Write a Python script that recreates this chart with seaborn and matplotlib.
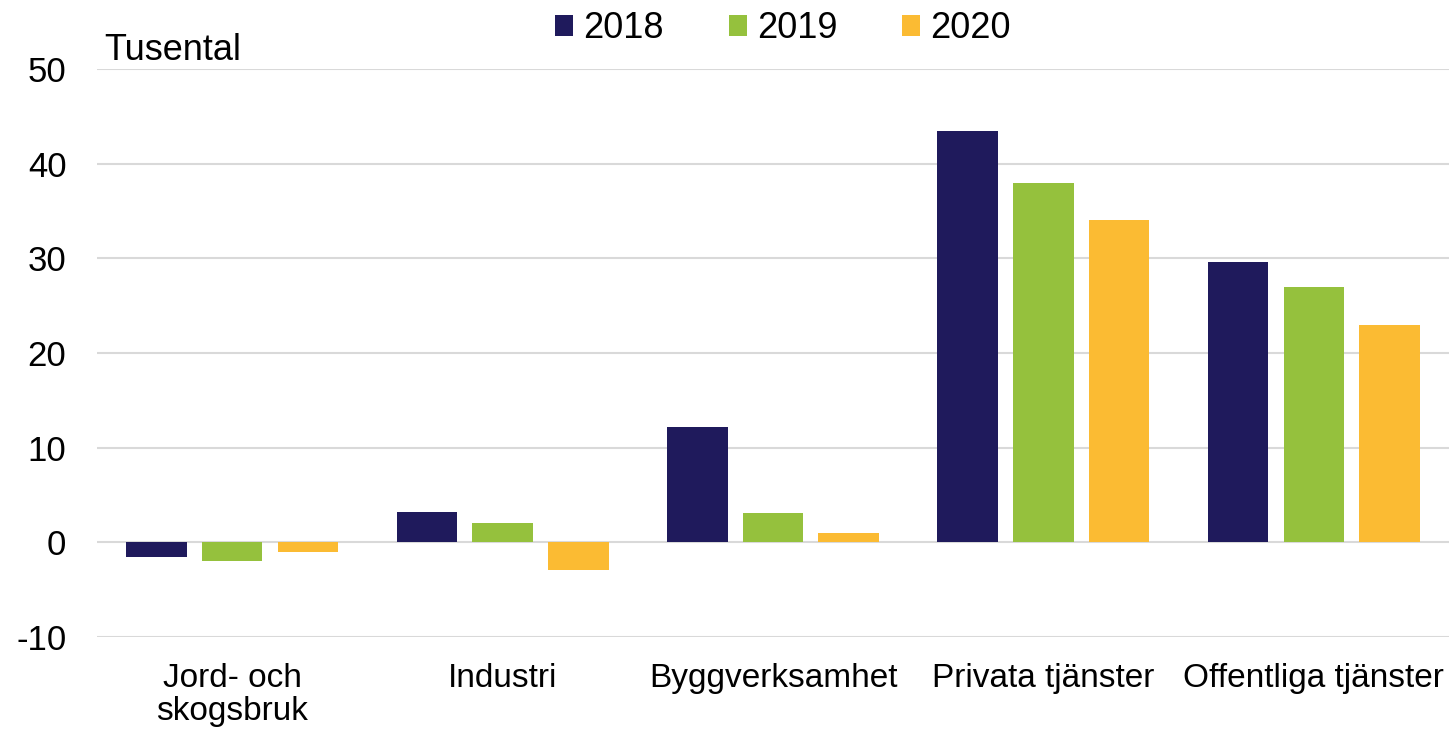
import matplotlib
matplotlib.use("Agg")
import matplotlib.pyplot as plt
import seaborn as sns
import pandas as pd

categories = ["Jord- och\nskogsbruk", "Industri", "Byggverksamhet", "Privata tjänster", "Offentliga tjänster"]
years = ["2018", "2019", "2020"]
values_2018 = [-1.6, 3.2, 12.2, 43.5, 29.6]
values_2019 = [-2.0, 2.0, 3.1, 38.0, 27.0]
values_2020 = [-1.0, -2.9, 1.0, 34.0, 23.0]
colors = ["#1f1a5c", "#95c13d", "#fbbb33"]
y_ticks = [-10, 0, 10, 20, 30, 40, 50]

rows = []
for yr, vals in zip(years, [values_2018, values_2019, values_2020]):
    for c, v in zip(categories, vals):
        rows.append({"Kategori": c, "År": yr, "Värde": v})
df = pd.DataFrame(rows)

sns.set_theme(style="white")
plt.rcParams["font.family"] = ["Liberation Sans", "DejaVu Sans"]
plt.rcParams["text.color"] = "black"
plt.rcParams["xtick.color"] = "black"
plt.rcParams["ytick.color"] = "black"

fig = plt.figure(figsize=(14.49, 7.33), dpi=100)
ax = fig.add_axes([97/1449, 1 - 637/733, 1 - 97/1449, (637 - 69)/733])

sns.barplot(data=df, x="Kategori", y="Värde", hue="År", order=categories,
            hue_order=years, palette=colors, saturation=1, width=0.84, gap=0.2,
            linewidth=0, errorbar=None, ax=ax, zorder=3)

ax.set_ylim(-10, 50)
ax.set_xlim(-0.5, 4.5)
ax.set_yticks(y_ticks)
ax.set_yticklabels([str(t) for t in y_ticks])
ax.yaxis.grid(True, color="#d9d9d9", linewidth=1.5, zorder=0)
ax.set_axisbelow(True)
for s in ax.spines.values():
    s.set_visible(False)
ax.tick_params(axis="y", length=0, pad=22, labelsize=25, labelcolor="black")
ax.tick_params(axis="x", length=0, pad=19, labelsize=24, labelcolor="black")
for lbl in ax.get_xticklabels():
    lbl.set_linespacing(1.05)
ax.set_xlabel("")
ax.set_ylabel("")

handles, labels = ax.get_legend_handles_labels()
ax.get_legend().remove()
fig.legend(handles, labels, loc="center", bbox_to_anchor=(783/1449, 1 - 29/733),
           ncol=3, frameon=False, fontsize=26, handlelength=0.5, handleheight=0.5,
           handletextpad=0.28, columnspacing=1.8, borderpad=0, labelcolor="black")

fig.text(104/1449, 1 - 51/733, "Tusental", fontsize=26, ha="left", va="center", color="black")

fig.savefig("out.png", dpi=100)
